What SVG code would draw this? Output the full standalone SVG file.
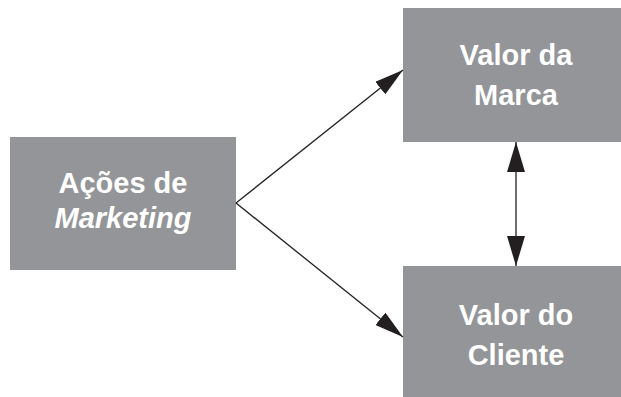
<svg xmlns="http://www.w3.org/2000/svg" width="621" height="397" viewBox="0 0 621 397">
<style>
.box{fill:#939598;}
.lbl{font-family:"Liberation Sans",Arial,sans-serif;font-weight:bold;font-size:29px;fill:#ffffff;text-anchor:middle;}
.it{font-style:italic;}
.conn{stroke:#231f20;stroke-width:1.3;fill:none;}
</style>
<defs>
<marker id="ah" viewBox="0 0 29 16" refX="29" refY="8" markerWidth="29" markerHeight="16" markerUnits="userSpaceOnUse" orient="auto-start-reverse">
<path d="M0,0 L29,8 L0,16 z" fill="#231f20"/>
</marker>
<marker id="ahv" viewBox="0 0 30 18" refX="30" refY="9" markerWidth="30" markerHeight="18" markerUnits="userSpaceOnUse" orient="auto-start-reverse">
<path d="M0,0 L30,9 L0,18 z" fill="#231f20"/>
</marker>
</defs>
<g id="acoes">
<rect class="box" x="10" y="137" width="226" height="133"/>
<text class="lbl" x="123" y="193">Ações de</text>
<text class="lbl it" x="123" y="228">Marketing</text>
</g>
<g id="valor-marca">
<rect class="box" x="403" y="8" width="218" height="134"/>
<text class="lbl" x="516" y="65">Valor da</text>
<text class="lbl" x="516" y="105">Marca</text>
</g>
<g id="valor-cliente">
<rect class="box" x="403" y="266" width="218" height="131"/>
<text class="lbl" x="516" y="325">Valor do</text>
<text class="lbl" x="516" y="365">Cliente</text>
</g>
<g id="connectors">
<line class="conn" x1="236" y1="203" x2="403" y2="70" marker-end="url(#ah)"/>
<line class="conn" x1="236" y1="203" x2="403" y2="337" marker-end="url(#ah)"/>
<line class="conn" x1="516" y1="142" x2="516" y2="266" marker-start="url(#ahv)" marker-end="url(#ahv)"/>
</g>
</svg>
